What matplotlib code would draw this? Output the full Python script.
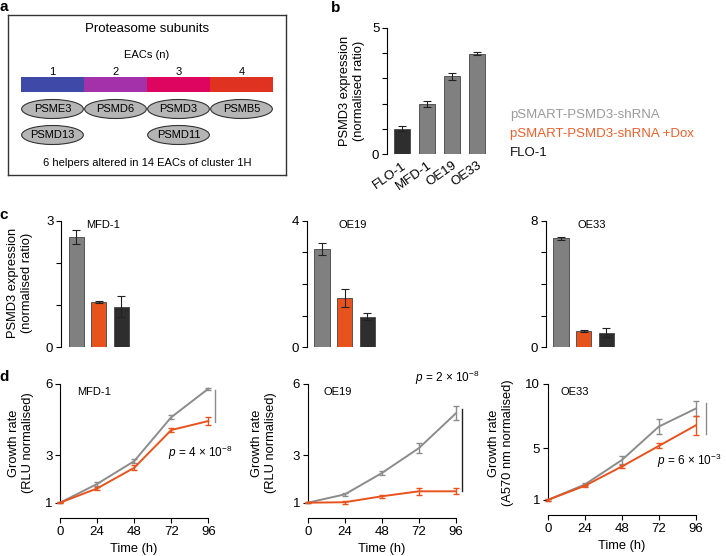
import numpy as np
import matplotlib
matplotlib.use("Agg")
import matplotlib.pyplot as plt
from matplotlib.patches import Ellipse, Rectangle

plt.rcParams['font.family'] = ['Liberation Sans', 'DejaVu Sans']
plt.rcParams['mathtext.fontset'] = 'custom'
plt.rcParams['mathtext.rm'] = 'Liberation Sans'
plt.rcParams['mathtext.it'] = 'Liberation Sans:italic'
plt.rcParams['font.size'] = 8

# ---------- Datos ----------
# panel a
eac_counts = [1, 2, 3, 4]
eac_colors = ['#3f4aa8', '#a431a9', '#de0560', '#e03221']
genes_row1 = ['PSME3', 'PSMD6', 'PSMD3', 'PSMB5']
genes_row2 = ['PSMD13', None, 'PSMD11', None]

# panel b
cells_b = ['FLO-1', 'MFD-1', 'OE19', 'OE33']
expr_b = [1.0, 2.0, 3.08, 3.97]
err_b = [0.10, 0.12, 0.15, 0.06]

# panel c  (shRNA, shRNA +Dox, FLO-1)
cells_c = ['MFD-1', 'OE19', 'OE33']
expr_c = [[2.62, 1.07, 0.96], [3.10, 1.55, 0.97], [6.90, 1.03, 0.93]]
err_c = [[0.17, 0.03, 0.25], [0.19, 0.28, 0.10], [0.10, 0.05, 0.30]]
ymax_c = [3, 4, 8]
ticks_c = [[0, 1, 2, 3], [0, 1, 2, 3, 4], [0, 2, 4, 6, 8]]

# panel d
time_h = [0, 24, 48, 72, 96]
grow_sh = [[1.0, 1.79, 2.75, 4.60, 5.80],
           [1.0, 1.35, 2.25, 3.30, 4.77],
           [1.0, 2.20, 4.10, 6.70, 8.10]]
grow_sh_err = [[0.02, 0.10, 0.08, 0.08, 0.05],
               [0.02, 0.06, 0.08, 0.22, 0.30],
               [0.05, 0.15, 0.30, 0.60, 0.60]]
grow_dox = [[1.0, 1.60, 2.47, 4.06, 4.44],
            [1.0, 1.02, 1.27, 1.48, 1.48],
            [1.0, 2.10, 3.60, 5.20, 6.80]]
grow_dox_err = [[0.02, 0.06, 0.10, 0.10, 0.15],
                [0.02, 0.06, 0.07, 0.15, 0.12],
                [0.05, 0.10, 0.15, 0.20, 0.75]]
ymax_d = [6, 6, 10]
yticks_d = [[1, 3, 6], [1, 3, 6], [1, 5, 10]]
ylabels_d = ['Growth rate\n(RLU normalised)', 'Growth rate\n(RLU normalised)',
             'Growth rate\n(A570 nm normalised)']
p_texts = [r'$\it{p}$ = 4 × 10$^{-8}$', r'$\it{p}$ = 2 × 10$^{-8}$', r'$\it{p}$ = 6 × 10$^{-3}$']

legend_labels = ['pSMART-PSMD3-shRNA', 'pSMART-PSMD3-shRNA +Dox', 'FLO-1']

c_gray = '#808080'
c_orange = '#e8531d'
c_dark = '#2e2e2e'
c_line_gray = '#8c8c8c'

FS_TICK = 9.5
FS_LAB = 9.3

W, H = 726, 556
fig = plt.figure(figsize=(W / 100, H / 100), dpi=100)


def px_axes(x0, y0, x1, y1):
    return fig.add_axes([x0 / W, 1 - y1 / H, (x1 - x0) / W, (y1 - y0) / H])


def style_ax(ax):
    for s in ['top', 'right']:
        ax.spines[s].set_visible(False)
    ax.tick_params(direction='out', length=3.5, width=0.8, labelsize=FS_TICK, pad=2)


# ---------- Panel a ----------
ax_a = px_axes(8, 15, 286, 175)
ax_a.set_xlim((8 - 21) / 63, (286 - 21) / 63)
ax_a.set_ylim(160, 0)
ax_a.set_xticks([])
ax_a.set_yticks([])
for s in ax_a.spines.values():
    s.set_linewidth(1.0)
    s.set_color('#333333')
ax_a.text(2, 14, 'Proteasome subunits', ha='center', va='center', fontsize=9.5)
ax_a.text(2, 40, 'EACs (n)', ha='center', va='center', fontsize=8)
for i, n in enumerate(eac_counts):
    ax_a.text(i + 0.5, 57, str(n), ha='center', va='center', fontsize=8)
    ax_a.add_patch(Rectangle((i, 62), 1, 15, color=eac_colors[i], lw=0))
    for row_y, g in [(94, genes_row1[i]), (120, genes_row2[i])]:
        if g is None:
            continue
        ax_a.add_patch(Ellipse((i + 0.5, row_y), 0.98, 19, facecolor='#b5b5b5',
                               edgecolor='#333333', lw=0.8))
        ax_a.text(i + 0.5, row_y, g, ha='center', va='center', fontsize=8)
ax_a.text(2, 148, '6 helpers altered in 14 EACs of cluster 1H', ha='center',
          va='center', fontsize=8)

# ---------- Panel b ----------
ax_b = px_axes(387, 28, 487, 154)
style_ax(ax_b)
ax_b.spines['bottom'].set_visible(False)
xb = np.arange(len(cells_b))
colors_b = [c_dark] + [c_gray] * 3
ax_b.bar(xb, expr_b, width=0.64, color=colors_b, edgecolor='#444444', lw=0.6)
ax_b.errorbar(xb, expr_b, yerr=err_b, fmt='none', ecolor='#222222', elinewidth=0.8,
              capsize=3, capthick=0.8)
ax_b.set_xlim(-0.6, 3.4)
ax_b.set_ylim(0, 5)
ax_b.set_yticks([0, 1, 2, 3, 4, 5])
ax_b.set_yticklabels(['0', '', '', '', '', '5'])
ax_b.set_xticks(xb)
ax_b.set_xticklabels(cells_b, rotation=35, ha='right', rotation_mode='anchor')
ax_b.tick_params(axis='x', length=0, pad=4)
fig.text(352 / W, 1 - 91 / H, 'PSMD3 expression\n(normalised ratio)', rotation=90,
         ha='center', va='center', fontsize=FS_LAB)

leg_colors = ['#9a9a9a', '#e8602c', '#111111']
for i, (lab, col) in enumerate(zip(legend_labels, leg_colors)):
    fig.text(510 / W, 1 - (115 + 19 * i) / H, lab, color=col, fontsize=9.5,
             ha='left', va='center')

# ---------- Panel c ----------
spines_c = [61, 306.7, 545.7]
for k in range(3):
    x0 = spines_c[k]
    ax = px_axes(x0, 220.7, x0 + 74, 347.3)
    style_ax(ax)
    ax.spines['bottom'].set_visible(False)
    xc = np.arange(3)
    ax.bar(xc, expr_c[k], width=0.67, color=[c_gray, c_orange, c_dark],
           edgecolor='#444444', lw=0.6)
    ax.errorbar(xc, expr_c[k], yerr=err_c[k], fmt='none', ecolor='#222222',
                elinewidth=0.8, capsize=3, capthick=0.8)
    ax.set_xlim(-0.68, 2.6)
    ax.set_ylim(0, ymax_c[k])
    ax.set_xticks([])
    ax.set_yticks(ticks_c[k])
    ax.set_yticklabels([str(t) if t in (0, ymax_c[k]) else '' for t in ticks_c[k]])
    ax.text(0.45 if k == 0 else 0.75, ymax_c[k] * 0.965, cells_c[k], ha='left',
            va='center', fontsize=8)
fig.text(20 / W, 1 - 283 / H, 'PSMD3 expression\n(normalised ratio)', rotation=90,
         ha='center', va='center', fontsize=FS_LAB)

# ---------- Panel d ----------
spines_d = [60, 307.7, 547.7]
ylab_x = [21, 264, 501]
sig_x = [100.5, 99.7, 102.5]
sig_y = [(5.75, 4.4), (4.93, 1.48), (8.5, 6.1)]
sig_col = [c_line_gray, '#222222', c_line_gray]
p_pos = [(70, 3.1), (69.5, 6.25), (71, 4.0)]
lab_pos = [(11, 5.66), (10, 5.66), (8, 9.4)]
for k in range(3):
    x0 = spines_d[k]
    bottom = 502.7 if k < 2 else 500
    ax = px_axes(x0, 384, x0 + 148.3, bottom)
    style_ax(ax)
    ax.spines['bottom'].set_position(('outward', 11))
    ax.plot(time_h, grow_sh[k], '-', color=c_line_gray, lw=1.4, clip_on=False, zorder=3)
    ax.errorbar(time_h, grow_sh[k], yerr=grow_sh_err[k], fmt='none', ecolor=c_line_gray,
                elinewidth=1.0, capsize=2.5, capthick=1.0, clip_on=False, zorder=3)
    ax.plot(time_h, grow_dox[k], '-', color=c_orange, lw=1.4, clip_on=False, zorder=4)
    ax.errorbar(time_h, grow_dox[k], yerr=grow_dox_err[k], fmt='none', ecolor=c_orange,
                elinewidth=1.0, capsize=2.5, capthick=1.0, clip_on=False, zorder=4)
    ax.set_xlim(0, 96)
    ax.set_ylim(1, ymax_d[k])
    ax.set_xticks(time_h)
    ax.set_yticks(yticks_d[k])
    ax.set_xlabel('Time (h)', fontsize=FS_LAB, labelpad=4)
    ax.plot([sig_x[k]] * 2, sig_y[k], color=sig_col[k], lw=1.0, clip_on=False)
    ax.text(p_pos[k][0], p_pos[k][1], p_texts[k], ha='left', va='center', fontsize=8.5)
    ax.text(lab_pos[k][0], lab_pos[k][1], cells_c[k], ha='left', va='center', fontsize=8)
    fig.text(ylab_x[k] / W, 1 - 443 / H, ylabels_d[k], rotation=90, ha='center',
             va='center', fontsize=FS_LAB)

# letras de panel
for lab, (x, y) in zip('abcd', [(4, 7), (336, 8), (4, 215), (4, 377)]):
    fig.text(x / W, 1 - y / H, lab, fontsize=11, fontweight='bold', ha='center',
             va='center')

fig.savefig('out.png', dpi=100)
